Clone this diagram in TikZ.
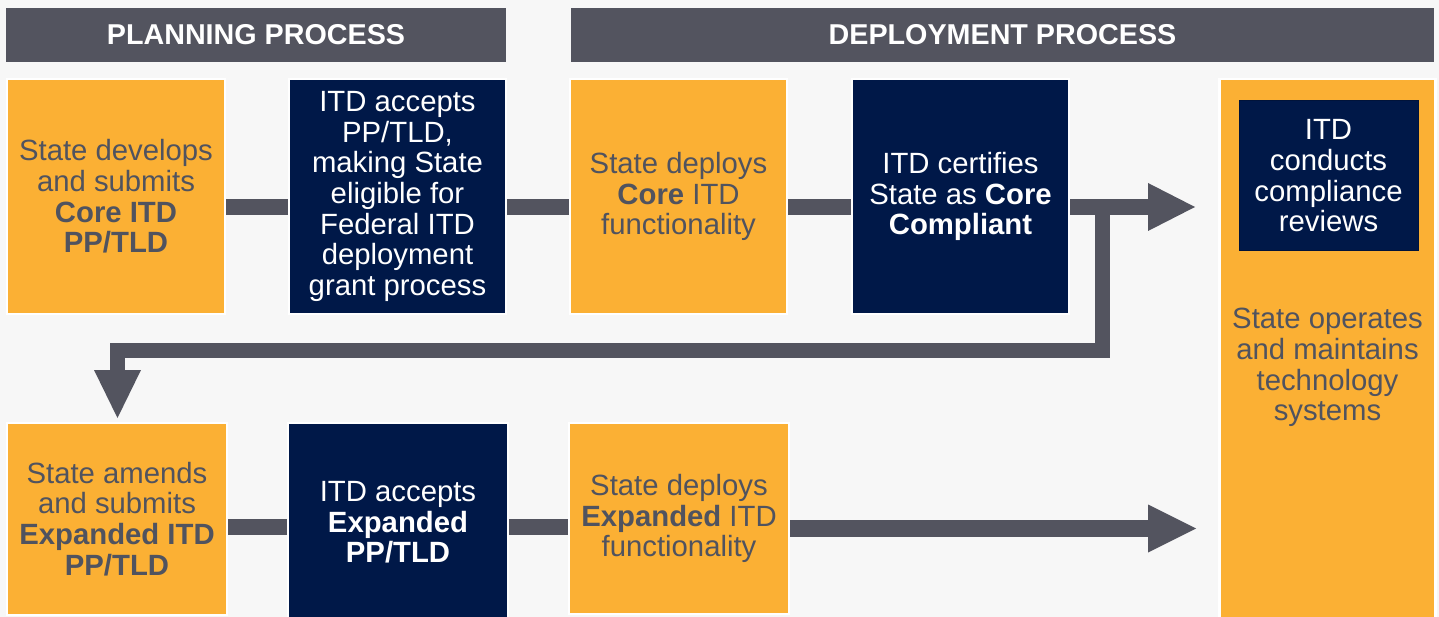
\documentclass[tikz,border=0pt]{standalone}
\usepackage{fontspec}
\setmainfont{Liberation Sans}
\definecolor{bg}{HTML}{F7F7F7}
\definecolor{orng}{HTML}{FBB034}
\definecolor{navy}{HTML}{001848}
\definecolor{hgray}{HTML}{53545F}
\definecolor{txtg}{HTML}{50535F}
\begin{document}
\begin{tikzpicture}[x=1pt,y=-1pt,
  box/.style={draw=white, line width=2.5pt, inner sep=0pt, align=center, font=\fontsize{29.3}{30.7}\selectfont},
  obox/.style={box, fill=orng, text=txtg},
  nbox/.style={box, fill=navy, text=white},
  hdr/.style={fill=hgray, text=white, inner sep=0pt, font=\bfseries\fontsize{28.7}{30}\selectfont},
  conn/.style={draw=hgray, line width=16pt},
  headfill/.style={fill=hgray}]
\useasboundingbox (0,0) rectangle (1439,617);
\clip (0,0) rectangle (1439,617);
\fill[bg] (0,0) rectangle (1439,617);

% headers
\node[hdr, minimum width=500pt, minimum height=54pt] (H1) at (256,35) {PLANNING PROCESS};
\node[hdr, minimum width=863pt, minimum height=54pt] (H2) at (1002.5,35) {DEPLOYMENT PROCESS};

% top row
\node[obox, minimum width=218pt, minimum height=235pt] (A) at (116,196.5)
  {State develops\\and submits\\\textbf{Core ITD}\\\textbf{PP/TLD}};
\node[nbox, minimum width=217pt, minimum height=235pt] (B) at (397.5,196.5)
  {ITD accepts\\PP/TLD,\\making State\\eligible for\\Federal ITD\\deployment\\grant process};
\node[obox, minimum width=217pt, minimum height=235pt] (C) at (678.5,196.5)
  {State deploys\\\textbf{Core} ITD\\functionality};
\node[nbox, minimum width=217pt, minimum height=235pt] (D) at (960.5,196.5)
  {ITD certifies\\State as \textbf{Core}\\\textbf{Compliant}};

% right column
\node[obox, minimum width=216pt, minimum height=560pt] (E) at (1327.5,359) {};
\node[fill=navy, draw=navy!80!black, line width=1pt, minimum width=179pt, minimum height=150pt,
  inner sep=0pt, align=center, text=white, font=\fontsize{29.3}{30.7}\selectfont] (F) at (1328.5,176)
  {ITD\\conducts\\compliance\\reviews};
\node[align=center, text=txtg, inner sep=0pt, font=\fontsize{29.3}{30.7}\selectfont] (Et) at (1327.5,367.5)
  {State operates\\and maintains\\technology\\systems};

% bottom row
\node[obox, minimum width=220pt, minimum height=192pt] (G) at (117,519)
  {State amends\\and submits\\\textbf{Expanded ITD}\\\textbf{PP/TLD}};
\node[nbox, minimum width=220pt, minimum height=199pt] (Hn) at (398,522.5)
  {ITD accepts\\\textbf{Expanded}\\\textbf{PP/TLD}};
\node[obox, minimum width=220pt, minimum height=191pt] (I) at (679,518.5)
  {State deploys\\\textbf{Expanded} ITD\\functionality};

% connectors
\coordinate (r1) at (0,207);
\coordinate (r2) at (0,527);
\draw[conn] (A.east |- r1) -- (B.west |- r1);
\draw[conn] (B.east |- r1) -- (C.west |- r1);
\draw[conn] (C.east |- r1) -- (D.west |- r1);

\coordinate (h1) at (1148,207);
\draw[conn] (D.east |- r1) -- (h1);
\fill[headfill] ([yshift=24pt]h1) -- ([xshift=47pt]h1) -- ([yshift=-24pt]h1) -- cycle;

\coordinate (e0) at (1102.5,207);
\coordinate (e1) at (1102.5,350.5);
\coordinate (e2) at (117.5,350.5);
\coordinate (h2) at (117.5,370);
\draw[conn, line width=15pt, line join=miter] (e0) -- (e1) -- (e2) -- (h2);
\fill[headfill] ([xshift=-23.5pt]h2) -- ([yshift=-48pt]h2) -- ([xshift=23.5pt]h2) -- cycle;

\draw[conn] (G.east |- r2) -- (Hn.west |- r2);
\draw[conn] (Hn.east |- r2) -- (I.west |- r2);

\coordinate (h3) at (1148,528.5);
\draw[conn, line width=17pt] (I.east |- h3) -- (h3);
\fill[headfill] ([yshift=24pt]h3) -- ([xshift=48pt]h3) -- ([yshift=-24pt]h3) -- cycle;
\end{tikzpicture}
\end{document}
